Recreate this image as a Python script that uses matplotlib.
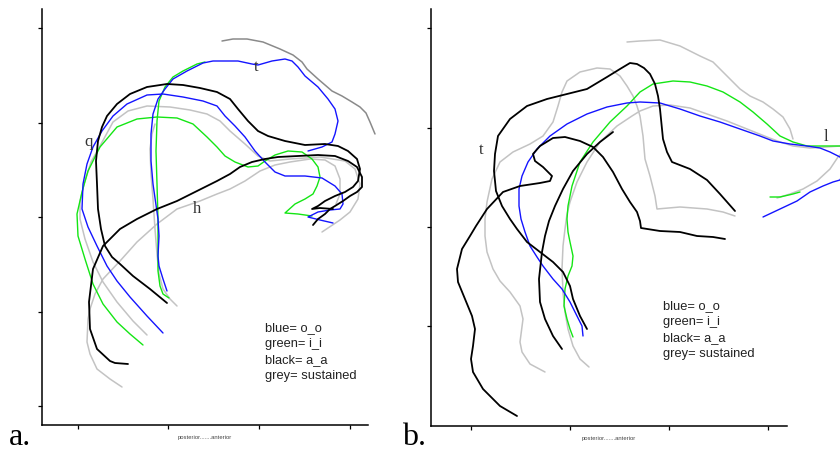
#!/usr/bin/env python3
"""
Tongue contour overlays (panel a and b), traced in picture pixel units.
"""

import matplotlib
matplotlib.use("Agg")
import matplotlib.pyplot as plt

# ---- panel a contours (x, y in picture pixels) ----
a_grey_dark = [(222, 42), (233, 40), (247, 40), (263, 43), (280, 50), (293, 56), (302, 63),
               (307, 70), (318, 80), (332, 92), (342, 97), (352, 103), (360, 108), (366, 114),
               (370, 123), (375, 135)]
a_blue_1 = [(167, 292), (163, 280), (159, 267), (158, 257), (159, 237), (158, 220), (153, 185),
            (151, 162), (151, 135), (153, 115), (158, 100), (165, 90), (173, 80), (187, 72),
            (203, 64), (213, 62), (225, 62), (238, 62), (252, 65), (258, 66), (272, 62),
            (285, 60), (292, 62), (298, 68), (305, 77), (318, 88), (328, 100), (335, 110),
            (338, 122), (335, 135), (332, 143), (322, 148), (308, 152)]
a_green_1 = [(169, 299), (163, 295), (160, 287), (158, 272), (158, 253), (158, 220), (157, 185),
             (156, 152), (157, 122), (159, 102), (165, 88), (173, 78), (183, 72), (197, 65),
             (205, 63)]
a_black_1 = [(167, 304), (150, 290), (133, 277), (120, 265), (112, 258), (105, 247), (101, 230),
             (98, 210), (97, 185), (96, 162), (98, 142), (102, 128), (107, 117), (117, 105),
             (130, 95), (147, 88), (167, 85), (183, 86), (200, 89), (217, 93), (230, 100),
             (238, 110), (248, 122), (258, 132), (268, 137), (285, 142), (305, 146), (325, 145),
             (338, 147), (348, 152), (357, 160), (360, 170), (358, 182), (353, 188), (345, 193),
             (335, 197), (325, 202), (318, 207), (312, 210), (320, 209), (333, 210)]
a_black_2 = [(128, 365), (115, 364), (110, 362), (97, 350), (90, 330), (89, 303), (93, 270),
             (103, 247), (120, 230), (137, 220), (157, 210), (177, 202), (197, 192), (217, 182),
             (230, 175), (240, 168), (252, 163), (265, 160), (278, 158), (298, 157), (318, 156),
             (335, 157), (348, 162), (357, 168), (362, 178), (362, 188), (357, 193), (350, 197),
             (343, 202), (335, 207), (330, 210), (325, 215), (318, 220), (313, 226)]
a_blue_2 = [(163, 334), (147, 317), (130, 298), (117, 282), (107, 267), (97, 247), (88, 228),
            (82, 210), (83, 185), (87, 165), (93, 148), (102, 132), (113, 117), (127, 105),
            (147, 96), (163, 95), (183, 98), (203, 102), (217, 107), (225, 117), (235, 127),
            (245, 138), (255, 152), (265, 163), (275, 173), (285, 177), (305, 177), (322, 179),
            (335, 187), (342, 195), (343, 205), (340, 210), (330, 211), (318, 213), (308, 218),
            (320, 221), (333, 224)]
a_green_2 = [(143, 346), (130, 335), (117, 323), (103, 305), (93, 285), (85, 260), (78, 237),
             (77, 215), (82, 193), (88, 172), (100, 148), (117, 128), (137, 120), (157, 118),
             (177, 119), (193, 125), (207, 138), (217, 148), (225, 157), (235, 163), (248, 168),
             (258, 167), (265, 162), (275, 156), (288, 152), (302, 153), (312, 160), (318, 168),
             (320, 178), (317, 187), (313, 195), (305, 200), (295, 205), (285, 214), (298, 215),
             (312, 217)]
a_grey_1 = [(147, 336), (133, 322), (117, 303), (103, 283), (93, 263), (85, 240), (80, 220),
            (80, 203), (84, 185), (91, 163), (100, 147), (113, 123), (128, 112), (147, 107),
            (170, 108), (190, 111), (207, 115), (220, 122), (230, 132), (245, 145), (258, 157),
            (270, 162), (290, 160), (320, 158), (345, 162), (355, 170), (360, 185), (358, 200),
            (350, 213), (340, 221), (322, 233)]
a_grey_2 = [(122, 388), (110, 380), (97, 370), (90, 355), (87, 343), (88, 320), (90, 310),
            (95, 295), (103, 280), (120, 262), (137, 243), (157, 225), (177, 210), (200, 202),
            (217, 195), (230, 190), (245, 182), (260, 172), (275, 166), (290, 163), (310, 160),
            (325, 161), (335, 167), (340, 180), (340, 195), (336, 205)]
a_grey_3 = [(177, 307), (170, 300), (163, 290), (159, 275), (157, 255), (155, 230), (153, 200),
            (151, 175), (150, 150), (152, 135), (155, 125)]

# ---- panel b contours ----
b_grey_top = [(627, 43), (640, 42), (660, 41), (680, 47), (700, 57), (713, 63), (723, 73),
              (733, 83), (740, 90), (750, 97), (763, 103), (773, 110), (783, 118), (790, 130),
              (793, 140)]
b_black_1 = [(517, 417), (500, 407), (483, 390), (473, 373), (471, 360), (473, 347), (475, 330),
             (472, 317), (465, 300), (458, 283), (457, 270), (462, 250), (470, 237), (476, 227),
             (487, 210), (503, 193), (520, 187), (540, 184), (550, 182), (552, 177), (543, 168),
             (535, 162), (533, 155), (540, 147), (553, 139), (565, 138), (580, 142), (593, 148),
             (603, 158), (613, 173), (622, 190), (630, 203), (637, 213), (640, 222), (641, 229),
             (660, 232), (680, 233), (697, 237), (713, 238), (725, 240)]
b_black_2 = [(562, 350), (553, 337), (545, 320), (540, 303), (539, 280), (542, 253), (545, 237),
             (549, 222), (555, 207), (563, 190), (573, 172), (587, 155), (600, 143), (613, 133)]
b_black_3 = [(587, 330), (580, 317), (573, 300), (570, 287), (563, 273), (553, 263), (540, 253),
             (527, 243), (517, 230), (510, 220), (502, 207), (496, 192), (494, 172), (495, 155),
             (498, 137), (510, 120), (527, 107), (547, 100), (567, 95), (587, 90), (607, 78),
             (620, 70), (630, 64), (637, 65), (644, 69), (650, 75), (655, 85), (658, 97),
             (660, 110), (662, 130), (663, 140), (667, 153), (672, 163), (690, 170), (707, 181),
             (720, 195), (735, 212)]
b_blue_1 = [(583, 337), (582, 327), (577, 317), (570, 303), (562, 290), (553, 280), (543, 267),
            (537, 258), (530, 247), (525, 233), (521, 220), (519, 207), (519, 190), (522, 177),
            (528, 163), (537, 150), (550, 137), (567, 125), (587, 115), (607, 108), (627, 104),
            (640, 103), (660, 104), (680, 110), (700, 117), (720, 123), (740, 130), (760, 137),
            (773, 142), (790, 145), (807, 147), (820, 149), (830, 153), (840, 158), (846, 168),
            (840, 181), (833, 183), (823, 187), (810, 193), (797, 202), (780, 210), (763, 218)]
b_green_1 = [(573, 338), (570, 330), (567, 320), (564, 307), (565, 290), (568, 277), (572, 267),
             (573, 257), (570, 243), (568, 233), (567, 220), (568, 207), (572, 187), (580, 163),
             (593, 143), (610, 123), (627, 107), (640, 93), (653, 85), (673, 82), (690, 83),
             (707, 87), (723, 93), (740, 103), (753, 113), (767, 125), (780, 137), (793, 143),
             (807, 147), (820, 147), (840, 147)]
b_green_2 = [(770, 198), (780, 198), (793, 195), (800, 193)]
b_grey_1 = [(589, 368), (580, 360), (573, 347), (568, 330), (565, 313), (563, 293), (562, 270),
            (563, 247), (565, 230), (567, 215), (570, 203), (577, 183), (587, 163), (600, 143),
            (617, 127), (632, 117), (640, 112), (653, 107), (670, 106), (690, 109), (707, 115),
            (727, 122), (747, 130), (767, 138), (780, 143), (793, 147), (810, 149), (827, 148),
            (840, 147), (846, 150), (838, 158), (830, 170), (817, 182), (803, 190), (790, 195),
            (777, 199)]
b_grey_2 = [(545, 373), (530, 365), (522, 353), (520, 343), (523, 320), (520, 307), (510, 293),
            (500, 282), (493, 270), (487, 253), (485, 237), (485, 220), (487, 203), (492, 180),
            (500, 163), (513, 153), (530, 145), (543, 137), (553, 123), (558, 107), (562, 93),
            (567, 82), (580, 73), (597, 69), (610, 70), (620, 77), (627, 87), (633, 97),
            (637, 107), (640, 117), (643, 137), (645, 160), (650, 177), (655, 197), (657, 210),
            (680, 208), (707, 210), (723, 213), (735, 217)]

legend_lines = ["blue= o_o", "green= i_i", "black= a_a", "grey= sustained"]
axis_caption = "posterior.......anterior"

# curve label letters with positions
a_letters = [("q", 89, 142), ("t", 256, 67), ("h", 197, 209)]
b_letters = [("t", 481, 150), ("l", 826, 137)]

# tick positions (pixels)
a_yticks = [29, 124, 218, 313, 407]
a_xticks = [78, 168, 259, 350]
b_yticks = [29, 129, 228, 327]
b_xticks = [471, 570, 669, 768]

W, H = 840, 452
BLUE = "#1414ff"
GREEN = "#14e614"
BLACK = "#000000"
GREY = "#c3c3c3"
DGREY = "#8a8a8a"


def make_axes(fig, left, right, top, bottom, xticks, yticks):
    ax = fig.add_axes([left / W, 1 - bottom / H, (right - left) / W, (bottom - top) / H])
    ax.set_xlim(left, right)
    ax.set_ylim(bottom, top)
    for side in ("top", "right"):
        ax.spines[side].set_visible(False)
    for side in ("left", "bottom"):
        ax.spines[side].set_linewidth(1.1)
    ax.set_xticks(xticks)
    ax.set_yticks(yticks)
    ax.set_xticklabels([])
    ax.set_yticklabels([])
    ax.tick_params(direction="out", length=3, width=0.9)
    ax.patch.set_alpha(0)
    return ax


def draw(ax, pts, color, lw):
    xs = [p[0] for p in pts]
    ys = [p[1] for p in pts]
    ax.plot(xs, ys, color=color, lw=lw, clip_on=False,
            solid_joinstyle="round", solid_capstyle="round")


def add_legend(ax, x, y0):
    for i, line in enumerate(legend_lines):
        ax.text(x, y0 + 16 * i, line, fontsize=9.3, family="Liberation Sans",
                va="baseline", ha="left", color="#222222")


def main():
    fig = plt.figure(figsize=(W / 100, H / 100), dpi=100)

    ax_a = make_axes(fig, 41.5, 368, 10, 426, a_xticks, a_yticks)
    ax_b = make_axes(fig, 431, 787, 10, 427, b_xticks, b_yticks)

    draw(ax_a, a_grey_dark, DGREY, 1.1)
    for pts in (a_grey_1, a_grey_2, a_grey_3):
        draw(ax_a, pts, GREY, 1.1)
    for pts in (a_green_1, a_green_2):
        draw(ax_a, pts, GREEN, 1.0)
    for pts in (a_blue_1, a_blue_2):
        draw(ax_a, pts, BLUE, 1.0)
    for pts in (a_black_1, a_black_2):
        draw(ax_a, pts, BLACK, 1.3)

    draw(ax_b, b_grey_top, GREY, 1.1)
    for pts in (b_grey_1, b_grey_2):
        draw(ax_b, pts, GREY, 1.1)
    for pts in (b_green_1, b_green_2):
        draw(ax_b, pts, GREEN, 1.0)
    draw(ax_b, b_blue_1, BLUE, 1.0)
    for pts in (b_black_1, b_black_2, b_black_3):
        draw(ax_b, pts, BLACK, 1.3)

    for ax, letters in ((ax_a, a_letters), (ax_b, b_letters)):
        for s, x, y in letters:
            ax.text(x, y, s, fontsize=12, family="Liberation Serif",
                    ha="center", va="center", color="#333333")

    add_legend(ax_a, 265, 331)
    add_legend(ax_b, 663, 309)

    ax_a.text(205, 438, axis_caption, fontsize=4.2, family="Liberation Sans",
              ha="center", va="center", color="#444444")
    ax_b.text(609, 439, axis_caption, fontsize=4.2, family="Liberation Sans",
              ha="center", va="center", color="#444444")

    ax_a.text(9, 445, "a.", fontsize=23, family="Liberation Serif",
              ha="left", va="baseline")
    ax_b.text(402, 445, "b.", fontsize=23, family="Liberation Serif",
              ha="left", va="baseline")

    fig.savefig("out.png", dpi=100)


if __name__ == "__main__":
    main()
